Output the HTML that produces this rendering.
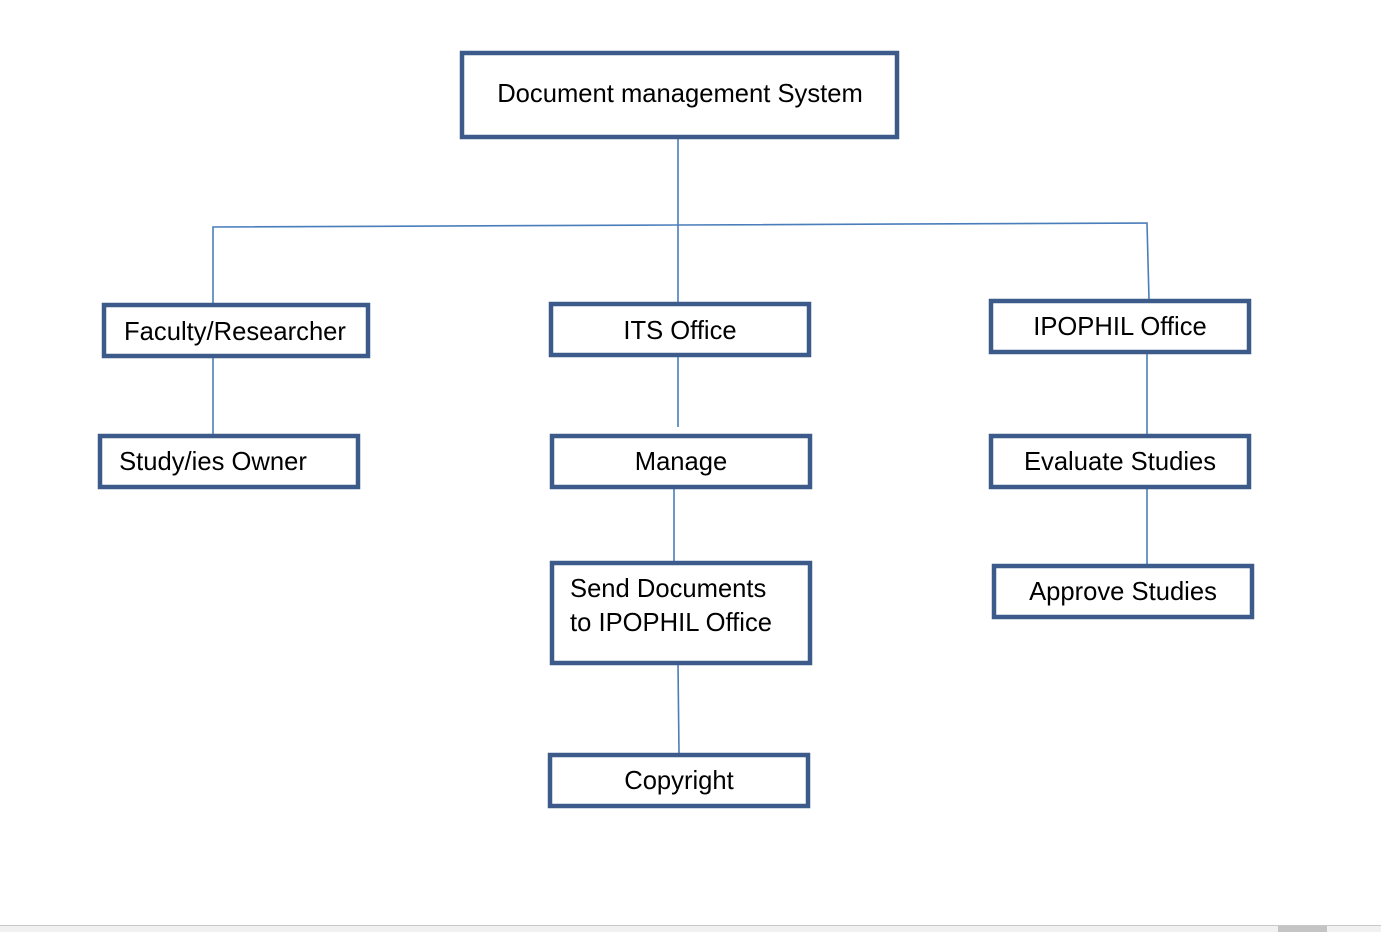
<!DOCTYPE html>
<html><head><meta charset="utf-8"><style>
html,body{margin:0;padding:0;background:#fff;width:1381px;height:932px;overflow:hidden}
svg{display:block}
text{font-family:"Liberation Sans",Arial,sans-serif;font-size:25.6px;fill:#000}
</style></head><body>
<svg width="1381" height="932" viewBox="0 0 1381 932">
<g stroke="#4a7ebb" stroke-width="1.6" fill="none">
<line x1="678" y1="139" x2="678" y2="305"/>
<polyline points="213,303 213,227 678,225 1147,223 1149,299"/>
<line x1="213" y1="358" x2="213" y2="434"/>
<line x1="678" y1="357" x2="678" y2="427"/>
<line x1="674" y1="489" x2="674" y2="561"/>
<line x1="678" y1="665" x2="679" y2="753"/>
<line x1="1147" y1="354" x2="1147" y2="434"/>
<line x1="1147" y1="489" x2="1147" y2="564"/>
</g>
<g stroke="#3c5a8a" stroke-width="4.5" fill="#fff">
<rect x="462" y="53" width="435" height="84"/>
<rect x="104" y="305" width="264" height="51"/>
<rect x="551" y="304" width="258" height="51"/>
<rect x="991" y="301" width="258" height="51"/>
<rect x="100" y="436" width="258" height="51"/>
<rect x="552" y="436" width="258" height="51"/>
<rect x="991" y="436" width="258" height="51"/>
<rect x="552" y="563" width="258" height="100"/>
<rect x="994" y="566" width="258" height="51"/>
<rect x="550" y="755" width="258" height="51"/>
</g>
<g text-anchor="middle">
<text x="680" y="102">Document management System</text>
<text x="235" y="340">Faculty/Researcher</text>
<text x="680" y="339">ITS Office</text>
<text x="1120" y="335">IPOPHIL Office</text>
<text x="213" y="470">Study/ies Owner</text>
<text x="681" y="470">Manage</text>
<text x="1120" y="470">Evaluate Studies</text>
<text x="1123" y="600">Approve Studies</text>
<text x="679" y="789">Copyright</text>
</g>
<text x="570" y="597">Send Documents</text>
<text x="570" y="631">to IPOPHIL Office</text>
<rect x="0" y="925" width="1381" height="1" fill="#c8c8c8"/>
<rect x="0" y="926" width="1381" height="6" fill="#f1f1f1"/>
<rect x="1278" y="926" width="49" height="6" fill="#c4c4c4"/>
</svg>
</body></html>
